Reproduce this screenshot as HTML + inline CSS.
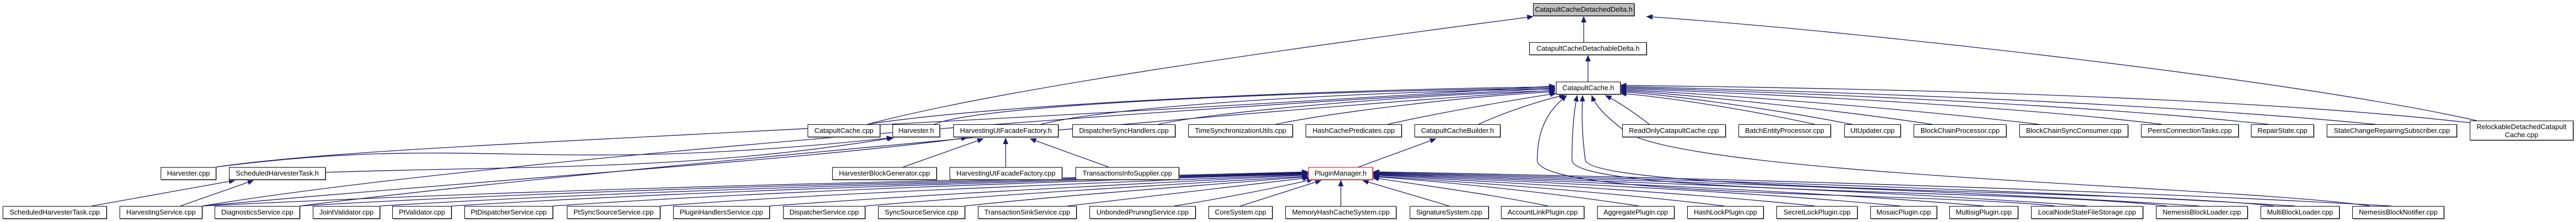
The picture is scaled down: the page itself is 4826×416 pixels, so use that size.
<!DOCTYPE html>
<html><head><meta charset="utf-8"><style>
html,body{margin:0;padding:0;background:#fff;}
body{width:4826px;height:416px;position:relative;overflow:hidden;font-family:"Liberation Sans",Arial,sans-serif;}
.n{position:absolute;box-sizing:border-box;border:1px solid #000;background:#fff;font-size:13px;line-height:22px;text-align:center;white-space:nowrap;color:#000;box-shadow:1px 1px 0 #888;}
svg{position:absolute;left:0;top:0;}
</style></head><body>
<svg width="4826" height="416" viewBox="0 0 4826 416">
<defs><marker id="a" markerUnits="userSpaceOnUse" markerWidth="12" markerHeight="10" refX="11" refY="5" orient="auto"><path d="M0,0 L12,5 L0,10 z" fill="#191970"/></marker></defs>
<g fill="none" stroke="#191970" stroke-width="1.3" marker-end="url(#a)">
<path d="M2967 79 L2967 31"/>
<path d="M2975 153 L2975 104"/>
<path d="M1625 233 C1900 160 2500 80 2872 31"/>
<path d="M4640 226 C4300 150 3500 60 3085 31"/>
<path d="M1625 233 C1900 190 2600 165 2913 163"/>
<path d="M1750 233 C1850 190 2600 168 2913 165"/>
<path d="M1950 233 C2100 195 2600 170 2913 167"/>
<path d="M2170 233 C2300 205 2700 175 2913 170"/>
<path d="M2390 233 C2500 210 2750 180 2913 172"/>
<path d="M2600 233 C2700 210 2850 185 2915 175"/>
<path d="M2770 233 C2830 205 2900 185 2932 178"/>
<path d="M405 313 C700 270 1300 262 2913 161"/>
<path d="M379 386 C900 300 2200 200 2913 166"/>
<path d="M562 386 C1000 330 2300 210 2913 169"/>
<path d="M3090 233 C3060 210 3030 190 3008 179"/>
<path d="M3400 233 C3250 200 3100 180 3036 175"/>
<path d="M3470 233 C3300 200 3100 175 3036 172"/>
<path d="M3620 233 C3400 200 3100 172 3036 170"/>
<path d="M3820 233 C3500 195 3100 170 3036 168"/>
<path d="M4050 233 C3700 190 3100 168 3036 166"/>
<path d="M4250 233 C3800 185 3100 166 3036 164"/>
<path d="M4450 233 C3900 180 3100 164 3036 162"/>
<path d="M4627 230 C4100 170 3200 162 3036 160"/>
<path d="M3850 386 C3600 360 2880 370 2880 300 C2880 230 2910 200 2935 179"/>
<path d="M4060 386 C3800 355 2945 365 2945 300 C2945 240 2950 200 2955 179"/>
<path d="M4260 386 C4000 355 2985 360 2970 300 C2962 240 2964 200 2965 179"/>
<path d="M4440 386 C4200 350 3200 330 3050 250 C3010 220 2990 200 2982 179"/>
<path d="M405 313 C900 250 1000 330 1672 258"/>
<path d="M610 323 C1000 310 1300 320 1674 258"/>
<path d="M379 386 C1000 330 1500 300 1812 258"/>
<path d="M1692 313 L1842 260"/>
<path d="M1884 313 L1884 259"/>
<path d="M2077 313 L1930 260"/>
<path d="M172 386 L440 338"/>
<path d="M338 386 L475 338"/>
<path d="M2545 313 L2690 260"/>
<path d="M379 386 C1200 345 2000 335 2450 322"/>
<path d="M562 386 C1200 348 2000 337 2450 323"/>
<path d="M712 386 C1300 350 2000 338 2450 324"/>
<path d="M846 386 C1400 352 2000 339 2450 325"/>
<path d="M1036 386 C1500 355 2000 340 2450 326"/>
<path d="M1237 386 C1600 358 2100 342 2450 327"/>
<path d="M1442 386 C1800 360 2150 344 2450 328"/>
<path d="M1621 386 C1900 362 2200 346 2450 330"/>
<path d="M1808 386 C2000 365 2250 348 2450 331"/>
<path d="M2000 386 C2150 368 2300 350 2452 333"/>
<path d="M2200 386 C2300 370 2400 350 2460 336"/>
<path d="M2324 386 L2475 338"/>
<path d="M2512 386 L2512 338"/>
<path d="M2715 386 L2553 338"/>
<path d="M2900 386 C2800 365 2650 345 2572 333"/>
<path d="M3070 386 C2900 360 2700 340 2573 331"/>
<path d="M3230 386 C3000 358 2700 338 2573 330"/>
<path d="M3400 386 C3100 355 2700 336 2573 328"/>
<path d="M3560 386 C3200 352 2700 334 2573 327"/>
<path d="M3716 386 C3300 350 2700 332 2573 326"/>
<path d="M3910 386 C3400 348 2700 330 2573 325"/>
<path d="M4120 386 C3500 346 2700 328 2573 324"/>
<path d="M4300 386 C3600 344 2700 326 2573 323"/>
<path d="M4480 386 C3700 342 2700 324 2573 322"/>
</g>
</svg>
<div class="n" style="left:2872px;top:6px;width:190px;height:24px;background:#bfbfbf">CatapultCacheDetachedDelta.h</div>
<div class="n" style="left:2865px;top:79px;width:220px;height:24px">CatapultCacheDetachableDelta.h</div>
<div class="n" style="left:2915px;top:153px;width:121px;height:24px">CatapultCache.h</div>

<div class="n" style="left:1513px;top:233px;width:136px;height:24px">CatapultCache.cpp</div>
<div class="n" style="left:1672px;top:233px;width:89px;height:24px">Harvester.h</div>
<div class="n" style="left:1786px;top:233px;width:197px;height:24px">HarvestingUtFacadeFactory.h</div>
<div class="n" style="left:2009px;top:233px;width:193px;height:24px">DispatcherSyncHandlers.cpp</div>
<div class="n" style="left:2226px;top:233px;width:196px;height:24px">TimeSynchronizationUtils.cpp</div>
<div class="n" style="left:2446px;top:233px;width:180px;height:24px">HashCachePredicates.cpp</div>
<div class="n" style="left:2650px;top:233px;width:161px;height:24px">CatapultCacheBuilder.h</div>
<div class="n" style="left:3039px;top:233px;width:194px;height:24px">ReadOnlyCatapultCache.cpp</div>
<div class="n" style="left:3257px;top:233px;width:173px;height:24px">BatchEntityProcessor.cpp</div>
<div class="n" style="left:3455px;top:233px;width:106px;height:24px">UtUpdater.cpp</div>
<div class="n" style="left:3585px;top:233px;width:174px;height:24px">BlockChainProcessor.cpp</div>
<div class="n" style="left:3783px;top:233px;width:204px;height:24px">BlockChainSyncConsumer.cpp</div>
<div class="n" style="left:4011px;top:233px;width:183px;height:24px">PeersConnectionTasks.cpp</div>
<div class="n" style="left:4217px;top:233px;width:118px;height:24px">RepairState.cpp</div>
<div class="n" style="left:4359px;top:233px;width:244px;height:24px">StateChangeRepairingSubscriber.cpp</div>
<div class="n" style="left:4627px;top:226px;width:194px;height:37px;line-height:15px;padding-top:3px">RelockableDetachedCatapult<br>Cache.cpp</div>

<div class="n" style="left:301px;top:313px;width:104px;height:24px">Harvester.cpp</div>
<div class="n" style="left:429px;top:313px;width:181px;height:24px">ScheduledHarvesterTask.h</div>
<div class="n" style="left:1559px;top:313px;width:196px;height:24px">HarvesterBlockGenerator.cpp</div>
<div class="n" style="left:1779px;top:313px;width:211px;height:24px">HarvestingUtFacadeFactory.cpp</div>
<div class="n" style="left:2015px;top:313px;width:194px;height:24px">TransactionsInfoSupplier.cpp</div>
<div class="n" style="left:2451px;top:313px;width:121px;height:24px;border-color:#f00">PluginManager.h</div>

<div class="n" style="left:5px;top:386px;width:195px;height:24px">ScheduledHarvesterTask.cpp</div>
<div class="n" style="left:224px;top:386px;width:155px;height:24px">HarvestingService.cpp</div>
<div class="n" style="left:402px;top:386px;width:160px;height:24px">DiagnosticsService.cpp</div>
<div class="n" style="left:586px;top:386px;width:126px;height:24px">JointValidator.cpp</div>
<div class="n" style="left:735px;top:386px;width:111px;height:24px">PtValidator.cpp</div>
<div class="n" style="left:870px;top:386px;width:166px;height:24px">PtDispatcherService.cpp</div>
<div class="n" style="left:1062px;top:386px;width:175px;height:24px">PtSyncSourceService.cpp</div>
<div class="n" style="left:1261px;top:386px;width:181px;height:24px">PluginHandlersService.cpp</div>
<div class="n" style="left:1467px;top:386px;width:154px;height:24px">DispatcherService.cpp</div>
<div class="n" style="left:1645px;top:386px;width:163px;height:24px">SyncSourceService.cpp</div>
<div class="n" style="left:1832px;top:386px;width:185px;height:24px">TransactionSinkService.cpp</div>
<div class="n" style="left:2041px;top:386px;width:199px;height:24px">UnbondedPruningService.cpp</div>
<div class="n" style="left:2264px;top:386px;width:120px;height:24px">CoreSystem.cpp</div>
<div class="n" style="left:2408px;top:386px;width:208px;height:24px">MemoryHashCacheSystem.cpp</div>
<div class="n" style="left:2641px;top:386px;width:148px;height:24px">SignatureSystem.cpp</div>
<div class="n" style="left:2812px;top:386px;width:156px;height:24px">AccountLinkPlugin.cpp</div>
<div class="n" style="left:2992px;top:386px;width:145px;height:24px">AggregatePlugin.cpp</div>
<div class="n" style="left:3161px;top:386px;width:143px;height:24px">HashLockPlugin.cpp</div>
<div class="n" style="left:3328px;top:386px;width:152px;height:24px">SecretLockPlugin.cpp</div>
<div class="n" style="left:3504px;top:386px;width:125px;height:24px">MosaicPlugin.cpp</div>
<div class="n" style="left:3652px;top:386px;width:129px;height:24px">MultisigPlugin.cpp</div>
<div class="n" style="left:3805px;top:386px;width:210px;height:24px">LocalNodeStateFileStorage.cpp</div>
<div class="n" style="left:4039px;top:386px;width:172px;height:24px">NemesisBlockLoader.cpp</div>
<div class="n" style="left:4235px;top:386px;width:148px;height:24px">MultiBlockLoader.cpp</div>
<div class="n" style="left:4407px;top:386px;width:172px;height:24px">NemesisBlockNotifier.cpp</div>
</body></html>
